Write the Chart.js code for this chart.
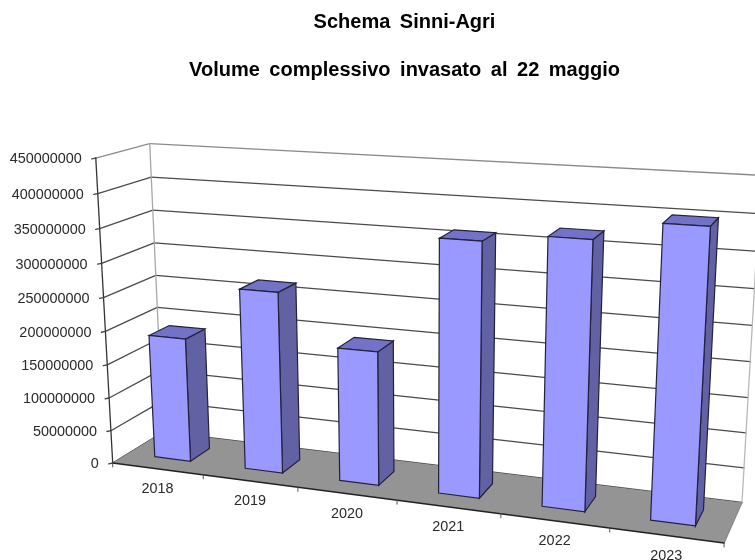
<!DOCTYPE html>
<html>
<head>
<meta charset="utf-8">
<title>Schema Sinni-Agri</title>
<script src="https://cdn.jsdelivr.net/npm/chart.js@4"></script>
<style>
  html, body { margin: 0; padding: 0; background: #fff; }
  #wrap { width: 755px; height: 560px; overflow: hidden; }
  canvas { filter: blur(0.35px); }
</style>
</head>
<body>
<div id="wrap"><canvas id="chart" width="755" height="560"></canvas></div>
<script>
const years = ['2018', '2019', '2020', '2021', '2022', '2023'];
const volumes = [186500000, 267600000, 195300000, 360700000, 372900000, 399800000];
const yMax = 450000000;
const yStep = 50000000;
const titleLines = ['Schema Sinni-Agri', 'Volume complessivo invasato al 22 maggio'];

// Excel style 3D box: u = along categories, v = up the value axis, w = into the page.
// Projective camera fitted to the corners of the box in the reference.
const cam = { ox: 112.7, oy: 463, ux: 516.8, uy: 9.1, vx: -21.9, vy: -313.2, wx: 60.1, wy: -5.1, cu: -0.1306, cv: -0.052, cw: 0.06 };
const barDepth = [0.3, 0.7];

function project(u, v, w) {
    const d = 1 + cam.cu * u + cam.cv * v + cam.cw * w;
    return [
        (cam.ox + cam.ux * u + cam.vx * v + cam.wx * w) / d,
        (cam.oy + cam.uy * u + cam.vy * v + cam.wy * w) / d
    ];
}

function poly(ctx, pts, fill, stroke) {
    ctx.beginPath();
    pts.forEach((p, i) => i ? ctx.lineTo(p[0], p[1]) : ctx.moveTo(p[0], p[1]));
    ctx.closePath();
    if (fill) { ctx.fillStyle = fill; ctx.fill(); }
    if (stroke) { ctx.strokeStyle = stroke; ctx.lineWidth = 1.2; ctx.stroke(); }
}

function line(ctx, a, b, color, width = 1.3) {
    ctx.beginPath();
    ctx.moveTo(a[0], a[1]);
    ctx.lineTo(b[0], b[1]);
    ctx.strokeStyle = color;
    ctx.lineWidth = width;
    ctx.stroke();
}

const box3d = {
    id: 'box3d',
    beforeDraw(chart) {
        // the title has wide gaps between words
        chart.ctx.wordSpacing = '4px';
    },
    beforeDatasetsDraw(chart) {
        const { ctx, scales: { x, y } } = chart;
        const U = px => (px - x.left) / (x.right - x.left);
        const V = px => (y.bottom - px) / (y.bottom - y.top);
        ctx.save();
        ctx.wordSpacing = '0px';
        ctx.lineCap = 'round';

        // walls
        y.ticks.forEach((t, i) => {
            const v = V(y.getPixelForTick(i));
            const color = t.value === yMax ? '#8c8c8c' : '#4a4a4a';
            line(ctx, project(0, v, 0), project(0, v, 1), color);
            line(ctx, project(0, v, 1), project(1, v, 1), color);
        });
        line(ctx, project(0, 0, 1), project(0, 1, 1), '#a8a8a8');
        line(ctx, project(1, 0, 1), project(1, 1, 1), '#b8b8b8');

        // floor
        poly(ctx, [project(0, 0, 0), project(1, 0, 0), project(1, 0, 1), project(0, 0, 1)], '#949494');
        line(ctx, project(1, 0, 0), project(1, 0, 1), '#8a8a8a');

        // value axis
        line(ctx, project(0, 0, 0), project(0, 1, 0), '#333');
        ctx.font = '14.4px "Liberation Sans", Arial, sans-serif';
        ctx.fillStyle = '#2a2a2a';
        ctx.textAlign = 'right';
        ctx.textBaseline = 'middle';
        y.ticks.forEach((t, i) => {
            const p = project(0, V(y.getPixelForTick(i)), 0);
            line(ctx, [p[0] - 4, p[1] + 0.8], p, '#444');
            ctx.fillText(t.label, p[0] - 14, p[1] + 1.5);
        });

        // category axis
        line(ctx, project(0, 0, 0), project(1, 0, 0), '#222', 1.5);
        ctx.textAlign = 'center';
        years.forEach((label, i) => {
            const edge = project(U(x.getPixelForValue(i - 0.5)), 0, 0);
            line(ctx, edge, [edge[0], edge[1] + 4], '#555', 1);
            const mid = project(U(x.getPixelForValue(i)), 0, 0);
            ctx.fillText(label, mid[0], mid[1] + 20.5);
        });
        const last = project(1, 0, 0);
        line(ctx, last, [last[0], last[1] + 4], '#555', 1);

        // bars, drawn from the library's own bar elements
        chart.getDatasetMeta(0).data.forEach(bar => {
            const u0 = U(bar.x - bar.width / 2);
            const u1 = U(bar.x + bar.width / 2);
            const v = V(bar.y);
            const [w0, w1] = barDepth;
            poly(ctx, [project(u1, 0, w0), project(u1, 0, w1), project(u1, v, w1), project(u1, v, w0)], '#6161a3', '#22223a');
            poly(ctx, [project(u0, v, w0), project(u1, v, w0), project(u1, v, w1), project(u0, v, w1)], '#7272c6', '#22223a');
            poly(ctx, [project(u0, 0, w0), project(u1, 0, w0), project(u1, v, w0), project(u0, v, w0)], '#9999ff', '#22223a');
        });

        ctx.restore();
        return false;
    }
};

new Chart(document.getElementById('chart'), {
    type: 'bar',
    data: {
        labels: years,
        datasets: [{ data: volumes, barPercentage: 0.4, categoryPercentage: 1 }]
    },
    options: {
        responsive: false,
        animation: false,
        layout: { padding: { left: 54, top: -2 } },
        plugins: {
            legend: { display: false },
            tooltip: { enabled: false },
            title: {
                display: true,
                text: titleLines,
                color: '#000',
                font: { family: '"Liberation Sans", Arial, sans-serif', size: 20, weight: 'bold', lineHeight: 2.4 },
                padding: 0
            }
        },
        scales: {
            x: { display: false },
            y: {
                display: false,
                min: 0,
                max: yMax,
                ticks: { stepSize: yStep, callback: v => String(v) }
            }
        }
    },
    plugins: [box3d]
});
</script>
</body>
</html>
